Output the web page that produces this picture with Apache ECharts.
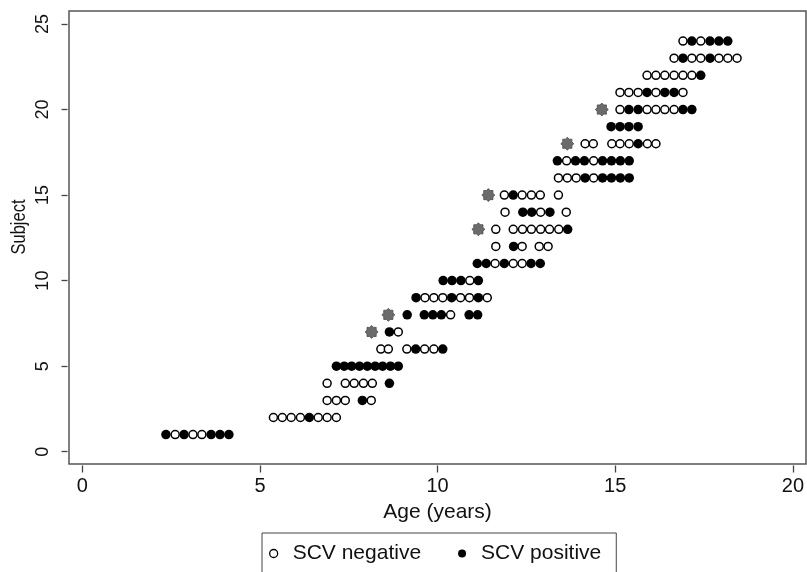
<!DOCTYPE html>
<html><head><meta charset="utf-8">
<script src="https://cdn.jsdelivr.net/npm/echarts@6/dist/echarts.min.js"></script>
<style>html,body{margin:0;padding:0;background:#fff}#c{width:807px;height:572px}</style>
</head><body><div id="c"></div>
<script>
// ---- data ----
const subjects = [1,2,3,4,5,6,7,8,9,10,11,12,13,14,15,16,17,18,19,20,21,22,23,24];
const ages = [
  [2.35, 2.61, 2.86, 3.11, 3.36, 3.62, 3.87, 4.12],
  [5.37, 5.62, 5.87, 6.13, 6.38, 6.63, 6.88, 7.14],
  [6.88, 7.14, 7.39, 7.87, 8.12],
  [6.88, 7.39, 7.64, 7.90, 8.15, 8.63],
  [7.14, 7.36, 7.57, 7.79, 8.01, 8.23, 8.44, 8.66, 8.88],
  [8.39, 8.60, 9.12, 9.37, 9.62, 9.88, 10.13],
  [8.63, 8.88],
  [9.13, 9.61, 9.85, 10.09, 10.35, 10.87, 11.11],
  [9.38, 9.63, 9.88, 10.13, 10.38, 10.63, 10.88, 11.13, 11.38],
  [10.14, 10.39, 10.64, 10.89, 11.13],
  [11.10, 11.35, 11.60, 11.86, 12.11, 12.36, 12.61, 12.87],
  [11.62, 12.12, 12.36, 12.84, 13.09],
  [11.62, 12.11, 12.37, 12.62, 12.88, 13.13, 13.39, 13.64],
  [11.88, 12.38, 12.63, 12.88, 13.14, 13.60],
  [11.86, 12.11, 12.36, 12.62, 12.87, 13.38],
  [13.38, 13.63, 13.88, 14.13, 14.37, 14.62, 14.87, 15.12, 15.37],
  [13.35, 13.61, 13.86, 14.11, 14.37, 14.62, 14.87, 15.12, 15.37],
  [14.13, 14.36, 14.88, 15.11, 15.37, 15.62, 15.88, 16.12],
  [14.86, 15.11, 15.36, 15.62],
  [15.11, 15.36, 15.62, 15.87, 16.12, 16.37, 16.63, 16.88, 17.13],
  [15.11, 15.36, 15.62, 15.87, 16.12, 16.37, 16.63, 16.88],
  [15.87, 16.12, 16.37, 16.63, 16.88, 17.13, 17.38],
  [16.63, 16.88, 17.13, 17.38, 17.64, 17.89, 18.14, 18.40],
  [16.88, 17.13, 17.38, 17.64, 17.89, 18.14]
];
// P = SCV positive, N = SCV negative (one letter per visit, same order as ages)
const status = [
  'PNPNNPPP', 'NNNNPNNN', 'NNNPN', 'NNNNNP', 'PPPPPPPPP', 'NNNPNNP',
  'PN', 'PPPPNPP', 'PNNNPNNPN', 'PPPNP', 'PPNPNNPP', 'NPNNN',
  'NNNNNNNP', 'NPPNPN', 'NPNNNN', 'NNNPNPPPP', 'PNPPNPPPP', 'NNNNNPNN',
  'PPPP', 'NPPNNNNPP', 'NNNPNPPN', 'NNNNNNP', 'NPNNPNNN', 'NPNPPP'
];
const starSubjects = [7, 8, 13, 15, 18, 20];
const starAges = [8.13, 8.60, 11.13, 11.41, 13.63, 14.60];
const xTicks = [0, 5, 10, 15, 20];
const yTicks = [0, 5, 10, 15, 20, 25];
const seriesNames = ['SCV negative', 'SCV positive'];

// ---- build series data ----
const negData = [], posData = [];
subjects.forEach((s, i) => {
  ages[i].forEach((a, j) => {
    (status[i][j] === 'P' ? posData : negData).push([a, s]);
  });
});
const starData = starSubjects.map((s, i) => [starAges[i], s]);

function starPath(n, r1, r2) {
  let d = '';
  for (let i = 0; i < 2 * n; i++) {
    const r = i % 2 ? r2 : r1;
    const a = Math.PI * i / n - Math.PI / 2;
    d += (i ? 'L' : 'M') + (50 + r * Math.cos(a)).toFixed(2) + ' ' + (50 + r * Math.sin(a)).toFixed(2);
  }
  return 'path://' + d + 'Z';
}

const FONT = "'Liberation Sans', Arial, Helvetica, sans-serif";
const xMin = xTicks[0], xMax = xTicks[xTicks.length - 1];
const yMin = yTicks[0], yMax = yTicks[yTicks.length - 1];
const hiddenX = (g) => ({type: 'value', gridIndex: g, min: xMin, max: xMax, show: false});
const hiddenY = (g) => ({type: 'value', gridIndex: g, min: yMin, max: yMax, show: false});

const chart = echarts.init(document.getElementById('c'), null, {renderer: 'canvas'});
chart.setOption({
  animation: false,
  backgroundColor: '#fff',
  grid: [
    {left: 82.3, right: 13, top: 24, bottom: 120.3},   // data area
    {left: 82.3, right: 13, top: 24, bottom: 106.5},   // carries the visible x axis
    {left: 67.5, right: 13, top: 24, bottom: 120.3}    // carries the visible y axis
  ],
  xAxis: [
    hiddenX(0),
    {
      type: 'value', gridIndex: 1, min: xMin, max: xMax, interval: 5,
      axisLine: {show: false},
      axisTick: {show: true, length: 7, lineStyle: {color: '#444', width: 1.3}},
      splitLine: {show: false},
      axisLabel: {margin: 11, fontSize: 20, color: '#111', fontFamily: FONT},
      name: 'Age (years)', nameLocation: 'middle', nameGap: 36,
      nameTextStyle: {fontSize: 21, color: '#111', fontFamily: FONT}
    },
    hiddenX(2)
  ],
  yAxis: [
    hiddenY(0),
    hiddenY(1),
    {
      type: 'value', gridIndex: 2, min: yMin, max: yMax, interval: 5,
      axisLine: {show: false},
      axisTick: {show: true, length: 6, lineStyle: {color: '#444', width: 1.3}},
      splitLine: {show: false},
      axisLabel: {rotate: 90, margin: 15, fontSize: 18, color: '#111', fontFamily: FONT}
    }
  ],
  legend: {
    left: 262, top: 533,
    padding: [10, 15, 30, 7],
    itemGap: 37, itemWidth: 8, itemHeight: 8,
    borderColor: '#444', borderWidth: 1,
    textStyle: {fontSize: 21, color: '#111', fontFamily: FONT, padding: [0, 0, 0, 10]},
    data: [
      {name: seriesNames[0], icon: 'circle', itemStyle: {color: '#fff', borderColor: '#000', borderWidth: 1.3}},
      {name: seriesNames[1], icon: 'circle', itemStyle: {color: '#000', borderWidth: 0}}
    ]
  },
  graphic: [
    {type: 'rect', silent: true, shape: {x: 69, y: 11, width: 737, height: 453},
     style: {fill: 'none', stroke: '#555', lineWidth: 1.5}, z: 0},
    {type: 'text', silent: true, x: 20, y: 227, rotation: Math.PI / 2, scaleY: 1.2,
     style: {text: 'Subject', fontSize: 16.5, fontFamily: FONT, fill: '#111', textAlign: 'center', textVerticalAlign: 'middle'}}
  ],
  series: [
    {name: seriesNames[0], type: 'scatter', data: negData, symbol: 'circle', symbolSize: 8,
     itemStyle: {color: '#fff', borderColor: '#000', borderWidth: 1.5, opacity: 1}, z: 3},
    {name: seriesNames[1], type: 'scatter', data: posData, symbol: 'circle', symbolSize: 9.5,
     itemStyle: {color: '#000', opacity: 1}, z: 4},
    {name: 'onset', type: 'scatter', data: starData, symbol: starPath(8, 50, 38), symbolSize: 13,
     itemStyle: {color: '#6b6b6b', borderColor: '#4a4a4a', borderWidth: 0.8, opacity: 1}, z: 5}
  ]
});
</script>
</body></html>
